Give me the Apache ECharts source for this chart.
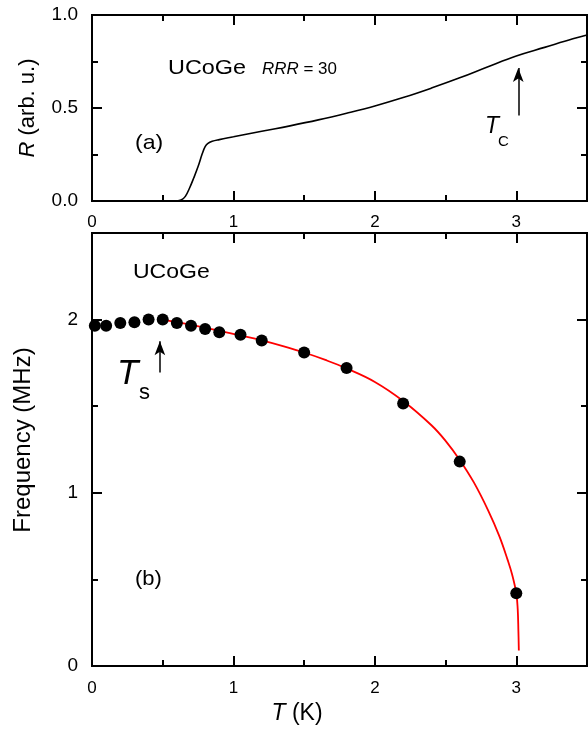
<!DOCTYPE html>
<html><head><meta charset="utf-8">
<script src="https://cdn.jsdelivr.net/npm/echarts@6/dist/echarts.min.js"></script>
<style>html,body{margin:0;padding:0;background:#fff}#c{width:588px;height:736px}</style>
</head><body><div id="c"></div>
<script>
// Panel (a): resistance vs temperature
const rT   = [0, 0.5, 0.6, 0.63, 0.66, 0.69, 0.72, 0.75, 0.78, 0.80, 0.82, 0.85, 0.9, 1.0, 1.2, 1.4, 1.6, 1.8, 2.0, 2.2, 2.4, 2.6, 2.8, 3.0, 3.2, 3.4, 3.5];
const rVal = [0, 0, 0, 0.005, 0.025, 0.07, 0.125, 0.185, 0.255, 0.292, 0.31, 0.321, 0.330, 0.345, 0.375, 0.404, 0.436, 0.472, 0.511, 0.556, 0.607, 0.662, 0.722, 0.78, 0.826, 0.872, 0.893];
// Panel (b): NQR frequency data points
const dotT = [0.02, 0.1, 0.2, 0.3, 0.4, 0.5, 0.6, 0.7, 0.8, 0.9, 1.05, 1.2, 1.5, 1.8, 2.2, 2.6, 3.0];
const dotF = [1.965, 1.965, 1.98, 1.985, 2.0, 2.0, 1.98, 1.965, 1.946, 1.927, 1.913, 1.88, 1.81, 1.72, 1.515, 1.18, 0.42];
// Panel (b): red fit curve
const fitT = [0.5, 0.7, 0.9, 1.05, 1.2, 1.35, 1.5, 1.65, 1.8, 2.0, 2.2, 2.4, 2.5, 2.6, 2.7, 2.8, 2.88, 2.94, 2.97, 3.0, 3.01, 3.015, 3.018];
const fitF = [2.0, 1.97, 1.935, 1.908, 1.88, 1.847, 1.81, 1.767, 1.718, 1.64, 1.53, 1.39, 1.30, 1.19, 1.06, 0.90, 0.75, 0.61, 0.53, 0.42, 0.33, 0.2, 0.09];
// Arrows
const tcArrow = {x: 3.014, from: 0.46, to: 0.715};
const tsArrow = {x: 0.48, from: 1.694, to: 1.875};

const FONT = 'Liberation Sans, Arial, Helvetica, sans-serif';
const zip = (a, b) => a.map((v, i) => [v, b[i]]);

function ax(grid, pos, interval, max, long, extra) {
  const o = {
    type: 'value', gridIndex: grid, position: pos, min: 0, max: max, interval: interval,
    axisLine: {show: true, onZero: false, lineStyle: {color: '#000', width: 2}},
    axisTick: {show: true, inside: true, length: long ? 10 : 6, lineStyle: {color: '#000', width: 2}},
    splitLine: {show: false},
    axisLabel: {show: false},
    z: 1
  };
  return Object.assign(o, extra || {});
}
const xLabel = {show: true, color: '#000', fontFamily: FONT, fontSize: 17, margin: 13, showMaxLabel: false};

const xAxes = [
  ax(0, 'bottom', 1, 3.5, true, {axisLabel: xLabel}),
  ax(0, 'bottom', 0.5, 3.5, false),
  ax(0, 'top', 1, 3.5, true),
  ax(0, 'top', 0.5, 3.5, false),
  ax(1, 'bottom', 1, 3.5, true, {
    axisLabel: Object.assign({}, xLabel, {margin: 14}),
    name: '{i|T} (K)', nameLocation: 'middle', nameGap: 35,
    nameTextStyle: {color: '#000', fontFamily: FONT, fontSize: 23, padding: [0, 85, 0, 0],
      rich: {i: {fontStyle: 'italic', fontFamily: FONT, fontSize: 23, color: '#000'}}}
  }),
  ax(1, 'bottom', 0.5, 3.5, false),
  ax(1, 'top', 1, 3.5, true),
  ax(1, 'top', 0.5, 3.5, false)
];
const yAxes = [
  ax(0, 'left', 0.5, 1, true, {
    axisLabel: {show: true, color: '#000', fontFamily: FONT, fontSize: 19, margin: 14, formatter: v => v.toFixed(1)},
    name: '{i|R} (arb. u.)', nameLocation: 'middle', nameGap: 53,
    nameTextStyle: {color: '#000', fontFamily: FONT, fontSize: 22,
      rich: {i: {fontStyle: 'italic', fontFamily: FONT, fontSize: 22, color: '#000'}}}
  }),
  ax(0, 'left', 0.25, 1, false),
  ax(0, 'right', 0.5, 1, true),
  ax(0, 'right', 0.25, 1, false),
  ax(1, 'left', 1, 2.5, true, {
    axisLabel: {show: true, color: '#000', fontFamily: FONT, fontSize: 19, margin: 14, showMaxLabel: false},
    name: 'Frequency (MHz)', nameLocation: 'middle', nameGap: 57,
    nameTextStyle: {color: '#000', fontFamily: FONT, fontSize: 24, padding: [0, 0, 0, 19]}
  }),
  ax(1, 'left', 0.5, 2.5, false),
  ax(1, 'right', 1, 2.5, true),
  ax(1, 'right', 0.5, 2.5, false)
];

const arrowLine = (a) => ({
  silent: true, animation: false, symbol: ['none', 'arrow'], symbolSize: [8, 14],
  label: {show: false}, lineStyle: {color: '#000', width: 1.5, type: 'solid'},
  emphasis: {disabled: true},
  data: [[{coord: [a.x, a.from]}, {coord: [a.x, a.to]}]]
});

const txt = (x, y, text, size, extra, sx) => ({
  type: 'text', x: x, y: y, scaleX: sx || 1, silent: true,
  style: Object.assign({text: text, fontFamily: FONT, fontSize: size, fill: '#000', verticalAlign: 'middle'}, extra || {})
});

const chart = echarts.init(document.getElementById('c'), null, {renderer: 'canvas'});
chart.setOption({
  animation: false,
  backgroundColor: '#fff',
  textStyle: {fontFamily: FONT},
  grid: [
    {left: 92, top: 15, width: 495, height: 186},
    {left: 92, top: 233, width: 495, height: 433}
  ],
  xAxis: xAxes,
  yAxis: yAxes,
  series: [
    {
      name: 'R', type: 'line', xAxisIndex: 0, yAxisIndex: 0, data: zip(rT, rVal),
      showSymbol: false, smooth: 0.4, lineStyle: {color: '#000', width: 1.6}, z: 3,
      markLine: arrowLine(tcArrow)
    },
    {
      name: 'fit', type: 'line', xAxisIndex: 4, yAxisIndex: 4, data: zip(fitT, fitF),
      showSymbol: false, smooth: 0.4, lineStyle: {color: '#ff0000', width: 1.8}, z: 3,
      markLine: arrowLine(tsArrow)
    },
    {
      name: 'Frequency', type: 'scatter', xAxisIndex: 4, yAxisIndex: 4, data: zip(dotT, dotF),
      symbol: 'circle', symbolSize: 12, itemStyle: {color: '#000', opacity: 1}, z: 4, clip: false
    }
  ],
  graphic: [
    txt(168, 68.5, 'UCoGe', 19.5, null, 1.2),
    txt(262, 70, '{i|RRR} = 30', 16, {rich: {i: {fontStyle: 'italic', fontFamily: FONT, fontSize: 16, fill: '#000'}}}, 1.06),
    txt(135, 143, '(a)', 21, null, 1.1),
    txt(485, 127, 'T', 23, {fontStyle: 'italic'}),
    txt(498, 141.5, 'C', 15),
    txt(133, 272.5, 'UCoGe', 20, null, 1.15),
    txt(117, 374.5, 'T', 35, {fontStyle: 'italic'}),
    txt(139, 392.5, 's', 22),
    txt(135, 579, '(b)', 20, null, 1.1)
  ]
});
</script>
</body></html>
